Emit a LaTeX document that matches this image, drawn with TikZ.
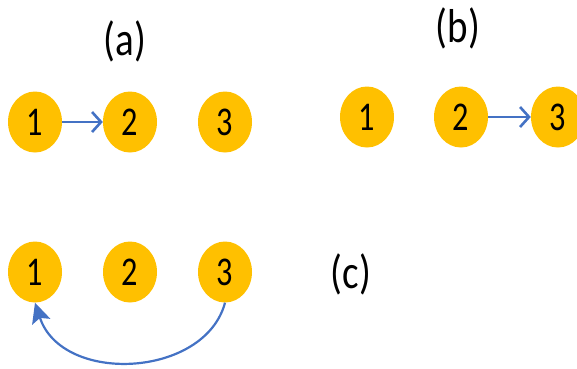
\documentclass[tikz,border=0pt]{standalone}
\usepackage{fontspec}
\usepackage{graphicx}
\setmainfont{Carlito}
\usetikzlibrary{shapes.geometric,arrows.meta}
\definecolor{gold}{HTML}{FFC000}
\definecolor{arrblue}{HTML}{4472C4}
\newcommand{\dig}[1]{\scalebox{0.95}[1.2]{#1}}
\newcommand{\lbl}[1]{\scalebox{1}[1.22]{#1}}
\tikzset{
  vert/.style={ellipse,fill=gold,minimum width=54pt,minimum height=61pt,inner sep=0pt,font=\fontsize{34}{34}\selectfont},
  lab/.style={inner sep=0pt,font=\fontsize{39}{39}\selectfont},
  edge/.style={draw=arrblue,line width=2.6pt},
  barb/.style={-{Straight Barb[length=9pt,width=20pt,line width=2.6pt]}},
}
\begin{document}
\begin{tikzpicture}[x=1pt,y=-1pt]
\useasboundingbox (0,0) rectangle (577,368);
% (a)
\node[lab] (la) at (125,41) {\lbl{(a)}};
\node[vert] (a1) at (35,122) {\dig{1}};
\node[vert] (a2) at (130,122) {\dig{2}};
\node[vert] (a3) at (225,122) {\dig{3}};
\draw[edge,barb] (a1) -- (a2);
% (b)
\node[lab] (lb) at (458,28) {\lbl{(b)}};
\node[vert] (b1) at (367,117) {\dig{1}};
\node[vert] (b2) at (461,117) {\dig{2}};
\node[vert] (b3) at (558,117) {\dig{3}};
\draw[edge,barb] (b2) -- (b3);
% (c)
\node[lab] (lc) at (351,274) {\lbl{(c)}};
\node[vert] (c1) at (35,272) {\dig{1}};
\node[vert] (c2) at (130,272) {\dig{2}};
\node[vert] (c3) at (225,272) {\dig{3}};
\draw[edge,line width=2.2pt,-{Stealth[length=20pt,width=19pt,inset=4pt]}] (c3.south) .. controls (205,378) and (62,385) .. (c1.south);
\end{tikzpicture}
\end{document}
